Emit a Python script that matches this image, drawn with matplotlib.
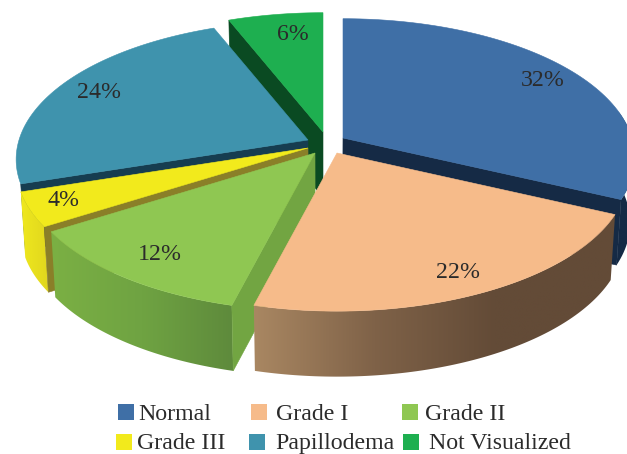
import numpy as np
import matplotlib
matplotlib.use("Agg")
import matplotlib.pyplot as plt
from matplotlib.colors import LinearSegmentedColormap
from matplotlib.patches import Polygon, Rectangle

categories = ["Normal", "Grade I", "Grade II", "Grade III", "Papillodema", "Not Visualized"]
values = [32, 22, 12, 4, 24, 6]

top_colors = ["#3f6fa6", "#f6bb8a", "#8fc752", "#f2ea1c", "#3f93ad", "#1eaf50"]
cut_colors = ["#152a45", "#634b37", "#72a542", "#8a7f28", "#163d50", "#0a4a22"]
wall_ramps = [
    ["#152a45", "#152a45"],
    ["#a98762", "#7f6248", "#634b37", "#634b37"],
    ["#7bb044", "#6fa342", "#5e8a3c"],
    ["#efe81e", "#e0d61e"],
    None,
    None,
]

# Exploded hub of each slice on the page, in pixels
hubs = [(343, 138), (337, 153), (315, 153), (308, 148), (308, 140), (323, 132)]
label_pos = [(543, 80), (458, 272), (160, 254), (63, 200), (99, 92), (293, 34)]

RX, RY, PERSP = 289.0, 136.0, 0.14
DEPTH, SHRINK = 65.5, 0.985
PIVOT_X = 323.0

fig = plt.figure(figsize=(6.27, 4.54), dpi=100)
ax = fig.add_axes([0, 0, 1, 1])
ax.set_xlim(0, 627)
ax.set_ylim(454, 0)
ax.axis("off")

font = dict(family="Liberation Serif", fontsize=17.2, color="#2b2b2b")

# Slice angles run clockwise from twelve o'clock
edges = np.cumsum([0] + values) / sum(values) * 2 * np.pi


def rim(theta, hub):
    """Perspective projection of points on the unit circle of the pie."""
    u, v = np.sin(theta), np.cos(theta)
    w = 1 + PERSP * v
    return np.column_stack([hub[0] + RX * u / w, hub[1] - RY * v / w])


def lower(points):
    """Same points on the underside of the pie."""
    p = np.atleast_2d(points).astype(float)
    return np.column_stack([PIVOT_X + (p[:, 0] - PIVOT_X) * SHRINK, p[:, 1] + DEPTH])


def add_face(points, color, z):
    ax.add_patch(Polygon(points, closed=True, fc=color, ec=color, lw=0.4, zorder=z))


def add_wall(arc, ramp, z):
    poly = np.vstack([arc, lower(arc)[::-1]])
    x0, x1 = poly[:, 0].min(), poly[:, 0].max()
    y0, y1 = poly[:, 1].min(), poly[:, 1].max()
    cmap = LinearSegmentedColormap.from_list("wall", ramp)
    patch = Polygon(poly, closed=True, fc="none", ec="none", transform=ax.transData)
    ax.add_patch(patch)
    img = ax.imshow(np.linspace(0, 1, 256)[None, :], cmap=cmap, extent=(x0, x1, y1, y0),
                    aspect="auto", zorder=z, interpolation="bilinear")
    img.set_clip_path(patch)


def draw_slice(i, z):
    hub = np.array(hubs[i], float)
    theta = np.linspace(edges[i], edges[i + 1], 90)
    arc = rim(theta, hub)
    # Cut face that looks towards the viewer: the closing edge of the first
    # slice, the opening edge of the others on the left half
    if i == 0:
        add_face(np.vstack([hub, arc[-1], lower(arc[-1]), lower(hub)]), cut_colors[i], z)
    elif i != 1:
        add_face(np.vstack([hub, arc[0], lower(arc[0]), lower(hub)]), cut_colors[i], z + 0.2)
    # Outer wall along the near part of the rim
    if wall_ramps[i] is not None:
        near = theta > np.pi / 2 - 0.2 if i == 0 else np.ones_like(theta, dtype=bool)
        add_wall(arc[near], wall_ramps[i], z + 0.1)
    add_face(np.vstack([hub, arc]), top_colors[i], z + 0.5)


for z, i in enumerate([5, 4, 0, 3, 2, 1]):
    draw_slice(i, z + 1)

ax.set_xlim(0, 627)
ax.set_ylim(454, 0)

for v, (x, y) in zip(values, label_pos):
    ax.text(x, y, f"{v}%", ha="center", va="center", zorder=20, **font)

# Hand-placed legend in two rows
swatches = [(118, 404), (251, 404), (402, 404), (116, 434), (249, 434), (403, 434)]
text_x = [138, 276, 425, 137, 275, 429]
baselines = [420, 420, 420, 449, 449, 449]
for name, color, (sx, sy), tx, by in zip(categories, top_colors, swatches, text_x, baselines):
    ax.add_patch(Rectangle((sx, sy), 16, 16, fc=color, ec="none", zorder=20))
    ax.text(tx, by, name, ha="left", va="baseline", zorder=20, **font)

fig.savefig("out.png", dpi=100)
